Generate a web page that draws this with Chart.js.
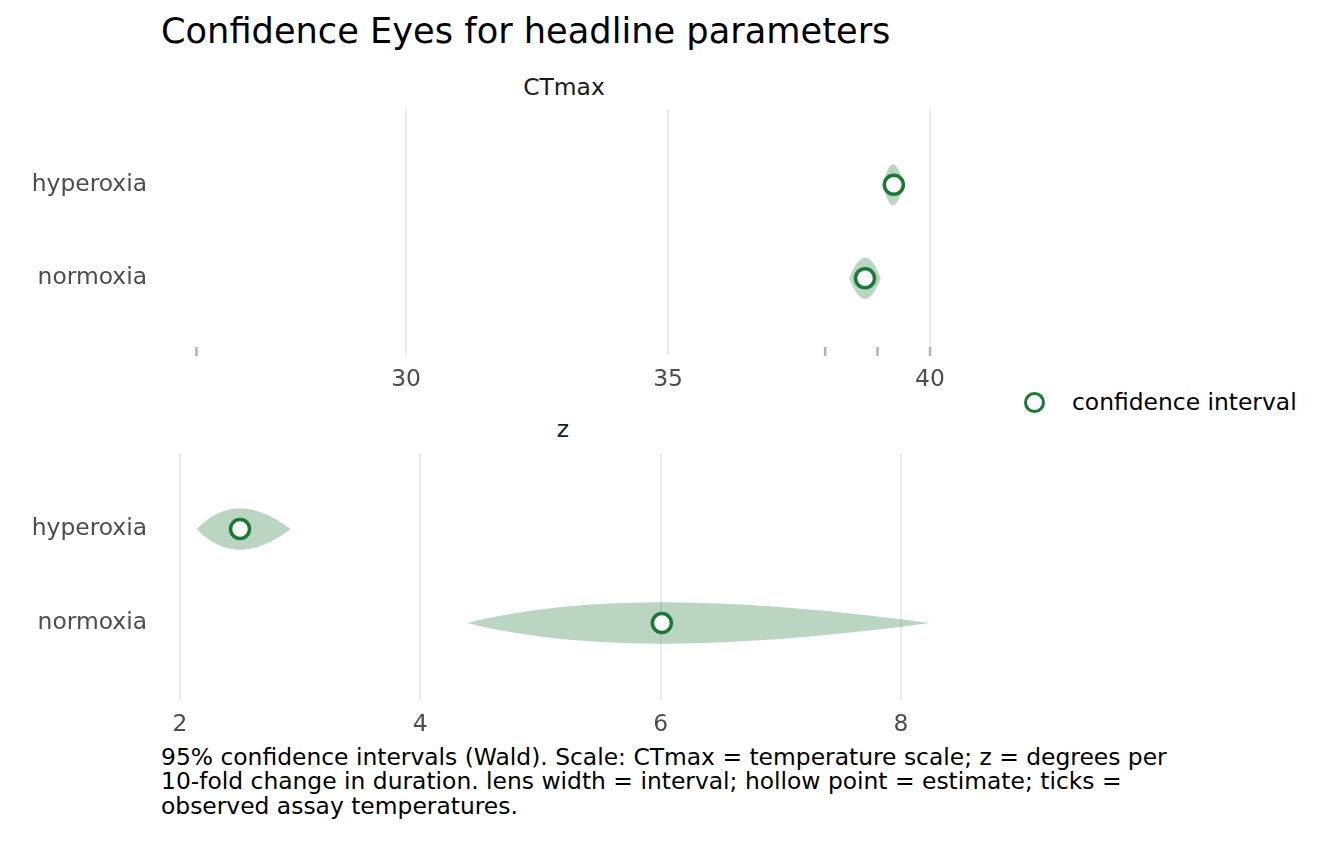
<!DOCTYPE html>
<html>
<head>
<meta charset="utf-8">
<script src="https://cdn.jsdelivr.net/npm/chart.js@4.4.1/dist/chart.umd.min.js"></script>
<style>
body { margin: 0; background: #fff; font-family: "DejaVu Sans", sans-serif; }
#page { position: relative; width: 1344px; height: 864px; overflow: hidden; }
.box { position: absolute; }
.txt { position: absolute; white-space: nowrap; }
#title { left: 161px; top: 13px; font-size: 35.2px; line-height: 35px; color: #000; }
.strip { width: 200px; text-align: center; font-size: 23.4px; line-height: 23px; color: #1a1a1a; }
#caption { left: 161px; top: 745px; font-size: 23.4px; line-height: 24.4px; color: #000; }
#legend { left: 1024px; top: 391px; font-size: 23.4px; line-height: 23px; color: #000; }
#legend .dot { position: absolute; left: 0; top: 1px; width: 15px; height: 15px; border: 3.5px solid #1b7837; border-radius: 50%; background: #fff; }
#legend .lab { position: absolute; left: 48px; top: 0; }
</style>
</head>
<body>
<div id="page">
  <div id="title" class="txt">Confidence Eyes for headline parameters</div>
  <div class="txt strip" style="left:464px; top:76px;">CTmax</div>
  <div class="txt strip" style="left:463px; top:418px;">z</div>
  <div class="box" style="left:0; top:96px; width:1000px; height:300px;"><canvas id="ctmaxChart"></canvas></div>
  <div class="box" style="left:0; top:440px; width:1000px; height:300px;"><canvas id="zChart"></canvas></div>
  <div id="legend" class="txt"><span class="dot"></span><span class="lab">confidence interval</span></div>
  <div id="caption" class="txt">95% confidence intervals (Wald). Scale: CTmax = temperature scale; z = degrees per<br>10-fold change in duration. lens width = interval; hollow point = estimate; ticks =<br>observed assay temperatures.</div>
</div>
<script>
// rows (top to bottom)
const groups = ['hyperoxia', 'normoxia'];

// CTmax estimates and 95% Wald intervals
const ctmaxEst = [39.31, 38.76];
const ctmaxLow = [39.10, 38.46];
const ctmaxHigh = [39.49, 39.06];

// z estimates and intervals (symmetric on log scale)
const zEst = [2.50, 6.01];
const zLow = [2.14, 4.39];
const zHigh = [2.92, 8.24];

// observed assay temperatures (rug ticks)
const assayTemps = [26, 38, 39, 40];

const ctmaxTicks = [30, 35, 40];
const zTicks = [2, 4, 6, 8];

const green = '#1b7837';
const lensFill = 'rgba(27, 120, 55, 0.3)';

Chart.defaults.font.family = '"DejaVu Sans", sans-serif';
Chart.defaults.animation = false;

// lens profile, pointed at the interval ends
function profile(u) {
  return 1 - u * u;
}

const lensPlugin = {
  id: 'lens',
  beforeDatasetsDraw(chart, args, opts) {
    const xs = chart.scales.x, ys = chart.scales.y;
    const ctx = chart.ctx;
    const fwd = opts.log ? Math.log : (v) => v;
    const inv = opts.log ? Math.exp : (v) => v;
    ctx.save();
    ctx.fillStyle = lensFill;
    for (let i = 0; i < opts.low.length; i++) {
      const a = fwd(opts.low[i]), b = fwd(opts.high[i]);
      const c = (a + b) / 2, h = (b - a) / 2;
      const row = i + 1;
      ctx.beginPath();
      const n = 60;
      for (let k = 0; k <= n; k++) {
        const u = -1 + 2 * k / n;
        const px = xs.getPixelForValue(inv(c + u * h));
        const py = ys.getPixelForValue(row - 0.22 * profile(u));
        if (k === 0) ctx.moveTo(px, py); else ctx.lineTo(px, py);
      }
      for (let k = n; k >= 0; k--) {
        const u = -1 + 2 * k / n;
        ctx.lineTo(xs.getPixelForValue(inv(c + u * h)), ys.getPixelForValue(row + 0.22 * profile(u)));
      }
      ctx.closePath();
      ctx.fill();
    }
    ctx.restore();
  }
};

const rugPlugin = {
  id: 'rug',
  beforeDatasetsDraw(chart, args, opts) {
    if (!opts.values) return;
    const xs = chart.scales.x, area = chart.chartArea;
    const ctx = chart.ctx;
    ctx.save();
    ctx.strokeStyle = '#b3b3b3';
    ctx.lineWidth = 2.5;
    opts.values.forEach(v => {
      const px = xs.getPixelForValue(v);
      ctx.beginPath();
      ctx.moveTo(px, area.bottom - 8);
      ctx.lineTo(px, area.bottom + 1);
      ctx.stroke();
    });
    ctx.restore();
  }
};

function makePanel(id, est, low, high, xmin, xmax, ticks, isLog, rug, xHeight) {
  return new Chart(document.getElementById(id), {
    type: 'scatter',
    data: {
      datasets: [{
        label: 'confidence interval',
        data: est.map((v, i) => ({ x: v, y: i + 1 })),
        pointRadius: 9.5,
        pointHoverRadius: 9.5,
        borderWidth: 3.5,
        borderColor: green,
        backgroundColor: '#ffffff'
      }]
    },
    options: {
      responsive: true,
      maintainAspectRatio: false,
      events: [],
      layout: { padding: { top: 3, right: 33, left: 0, bottom: 0 } },
      plugins: {
        legend: { display: false },
        tooltip: { enabled: false },
        lens: { low: low, high: high, log: isLog },
        rug: { values: rug }
      },
      scales: {
        x: {
          type: 'linear',
          min: xmin,
          max: xmax,
          afterBuildTicks: (s) => { s.ticks = ticks.map(v => ({ value: v })); },
          afterFit: (s) => { s.height = xHeight; s.paddingLeft = 0; s.paddingRight = 0; },
          grid: { color: '#ebebeb', lineWidth: 2, drawTicks: false },
          border: { display: false },
          ticks: { color: '#4d4d4d', font: { size: 23.4 }, padding: 11 }
        },
        y: {
          type: 'linear',
          reverse: true,
          min: 0.19,
          max: 2.82,
          afterBuildTicks: (s) => { s.ticks = groups.map((g, i) => ({ value: i + 1 })); },
          afterFit: (s) => { s.width = 160; s.paddingTop = 0; s.paddingBottom = 0; },
          grid: { display: false, drawTicks: false },
          border: { display: false },
          ticks: { color: '#4d4d4d', font: { size: 23.4 }, padding: 13, callback: (v) => groups[v - 1] }
        }
      }
    },
    plugins: [lensPlugin, rugPlugin]
  });
}

makePanel('ctmaxChart', ctmaxEst, ctmaxLow, ctmaxHigh, 25.305, 40.706, ctmaxTicks, false, assayTemps, 41);
makePanel('zChart', zEst, zLow, zHigh, 1.834, 8.549, zTicks, true, null, 40);
</script>
</body>
</html>
